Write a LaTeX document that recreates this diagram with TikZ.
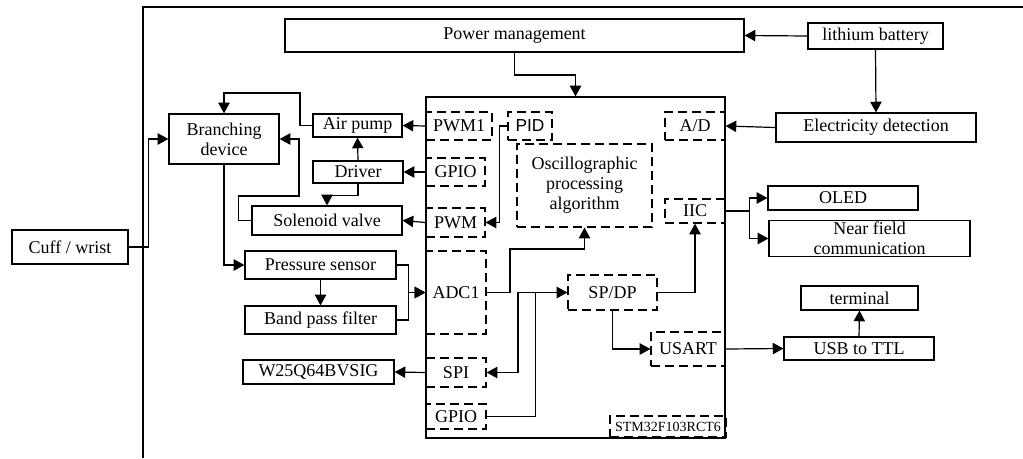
\documentclass[tikz,border=0pt]{standalone}
\usepackage{fontspec}
\setmainfont{Liberation Serif}
\setsansfont{Liberation Sans}
\usepackage{tikz}
\usetikzlibrary{positioning,%
  arrows.meta%
}

\tikzset{
  blk/.style={draw,line width=0.9pt,inner sep=1pt,align=center},
  dblk/.style={blk,dash pattern=on 7pt off 3.5pt},
  sz/.style 2 args={minimum width=#1*0.75pt,minimum height=#2*0.75pt},
  arr/.style={line width=0.9pt,-{Triangle[length=8pt,width=8.5pt]}}
}

\begin{document}
\begin{tikzpicture}
            [x=0.75pt,y=-0.75pt,font=\fontsize{13.5}{15}\selectfont]
            
            \useasboundingbox (0,0) rectangle (1023,458);
            \draw[line width=1pt] (143,458) -- (143,7) -- (1023,7);
            
            % power supply
            \node[blk,sz={459}{33}] (pm) at (514.5,35.5) {Power management};
            \node[blk,sz={135}{26}] (bat) at (875.5,36) {lithium battery};
            \node[blk,sz={200}{29}] (elec) at (876,127.5) {Electricity detection};
            
            % controller and its peripherals
            \node[blk,sz={299}{341}] (mcu) at (575.5,267.5) {};
            \node[dblk,sz={60}{28}] (ad) at (695,126) {A/D};
            \node[dblk,sz={66}{28}] (pwmA) at (459,126) {PWM1};
            \node[dblk,sz={44}{28},font=\fontsize{13}{15}\sffamily] (pid) at (530,126) {PID};
            \node[dblk,sz={59}{28}] (gpioA) at (455.5,172) {GPIO};
            \node[dblk,sz={59}{29}] (pwmB) at (455.5,222.5) {PWM};
            \node[dblk,sz={135}{83}] (osc) at (584.5,185.5) {Oscillographic\\processing\\algorithm};
            \node[dblk,sz={60}{24}] (iic) at (695,211) {IIC};
            \node[dblk,sz={60}{83}] (adc) at (456,292.5) {ADC1};
            \node[dblk,sz={89}{35}] (spdp) at (612.5,292.5) {SP/DP};
            \node[dblk,sz={74}{34}] (usart) at (688,349) {USART};
            \node[dblk,sz={60}{29}] (spi) at (456,372.5) {SPI};
            \node[dblk,sz={60}{25}] (gpioB) at (456,416.5) {GPIO};
            \node[dblk,sz={116}{21},font=\fontsize{10.5}{12}\selectfont] (chip) at (668,426.5) {STM32F103RCT6};
            
            % pneumatic part
            \node[blk,sz={89}{23}] (pump) at (357.5,125.5) {Air pump};
            \node[blk,sz={110}{50}] (branch) at (224,139) {Branching\\device};
            \node[blk,sz={90}{22}] (driver) at (358,172) {Driver};
            \node[blk,sz={150}{29}] (valve) at (327,220.5) {Solenoid valve};
            \node[blk,sz={116}{34}] (cuff) at (70,247) {Cuff / wrist};
            \node[blk,sz={151}{28}] (sensor) at (320.5,265) {Pressure sensor};
            \node[blk,sz={151}{28}] (filter) at (320.5,320) {Band pass filter};
            \node[blk,sz={151}{24}] (flash) at (318.5,372) {W25Q64BVSIG};
            
            % output side
            \node[blk,sz={150}{24}] (oled) at (843,198) {OLED};
            \node[blk,sz={201}{35}] (nfc) at (869.5,238.5) {Near field\\communication};
            \node[blk,sz={150}{23}] (usb) at (859,348.5) {USB to TTL};
            \node[blk,sz={117}{24}] (term) at (859.5,298) {terminal};
            
            % connectors
            \draw[arr] (bat.west) -- (pm.east);
            \draw[arr] (bat.south) -- (elec.north);
            \draw[arr] (elec.west) -- (ad.east);
            \draw[arr] (pm.south) -- (514.5,75) -| (mcu.north);
            \draw[arr] (pwmA.west) -- (pump.east);
            \draw[arr] (pump.west) -| (300,93) -| (branch.north);
            \draw[arr] (driver.north) -- (pump.south);
            \draw[arr] (gpioA.west) -- (driver.east);
            \draw[arr] (driver.south) -- ++(0,12) -| (valve.north);
            \draw[arr] (valve.west) -- ++(-13,0) |- (299,196) |- (branch.east);
            \draw[arr] (pwmB.west) -- (valve.east);
            \draw[arr] (pid.west) -- ++(-8,0) |- (pwmB.east);
            \draw[arr] (branch.south) |- (sensor.west);
            \draw[arr] (sensor.south) -- (filter.north);
            \draw[arr] (sensor.east) -- ++(12,0) |- (adc.west);
            \draw[arr] (filter.east) -- ++(12,0) |- (adc.west);
            \draw[arr] (adc.east) -| (510,249) -| (osc.south);
            \draw[arr] (gpioB.east) -- ++(49,0) |- (spdp.west);
            \coordinate (tap) at (518,292.5);
            \draw[arr] (spdp.west) -- (tap) |- (spi.east);
            \draw[arr] (spi.west) -- (flash.east);
            \draw[arr] (spdp.east) -| (iic.south);
            \draw[arr] (spdp.south) |- (usart.west);
            \draw[arr] (usart.east) -- (usb.west);
            \draw[arr] (usb.north) -- (term.south);
            \draw[arr] (iic.east) -- ++(24,0) |- (oled.west);
            \draw[arr] (iic.east) -- ++(24,0) |- (nfc.west);
            \draw[arr] (cuff.east) -- ++(20,0) |- (branch.west);
        \end{tikzpicture}
\end{document}
